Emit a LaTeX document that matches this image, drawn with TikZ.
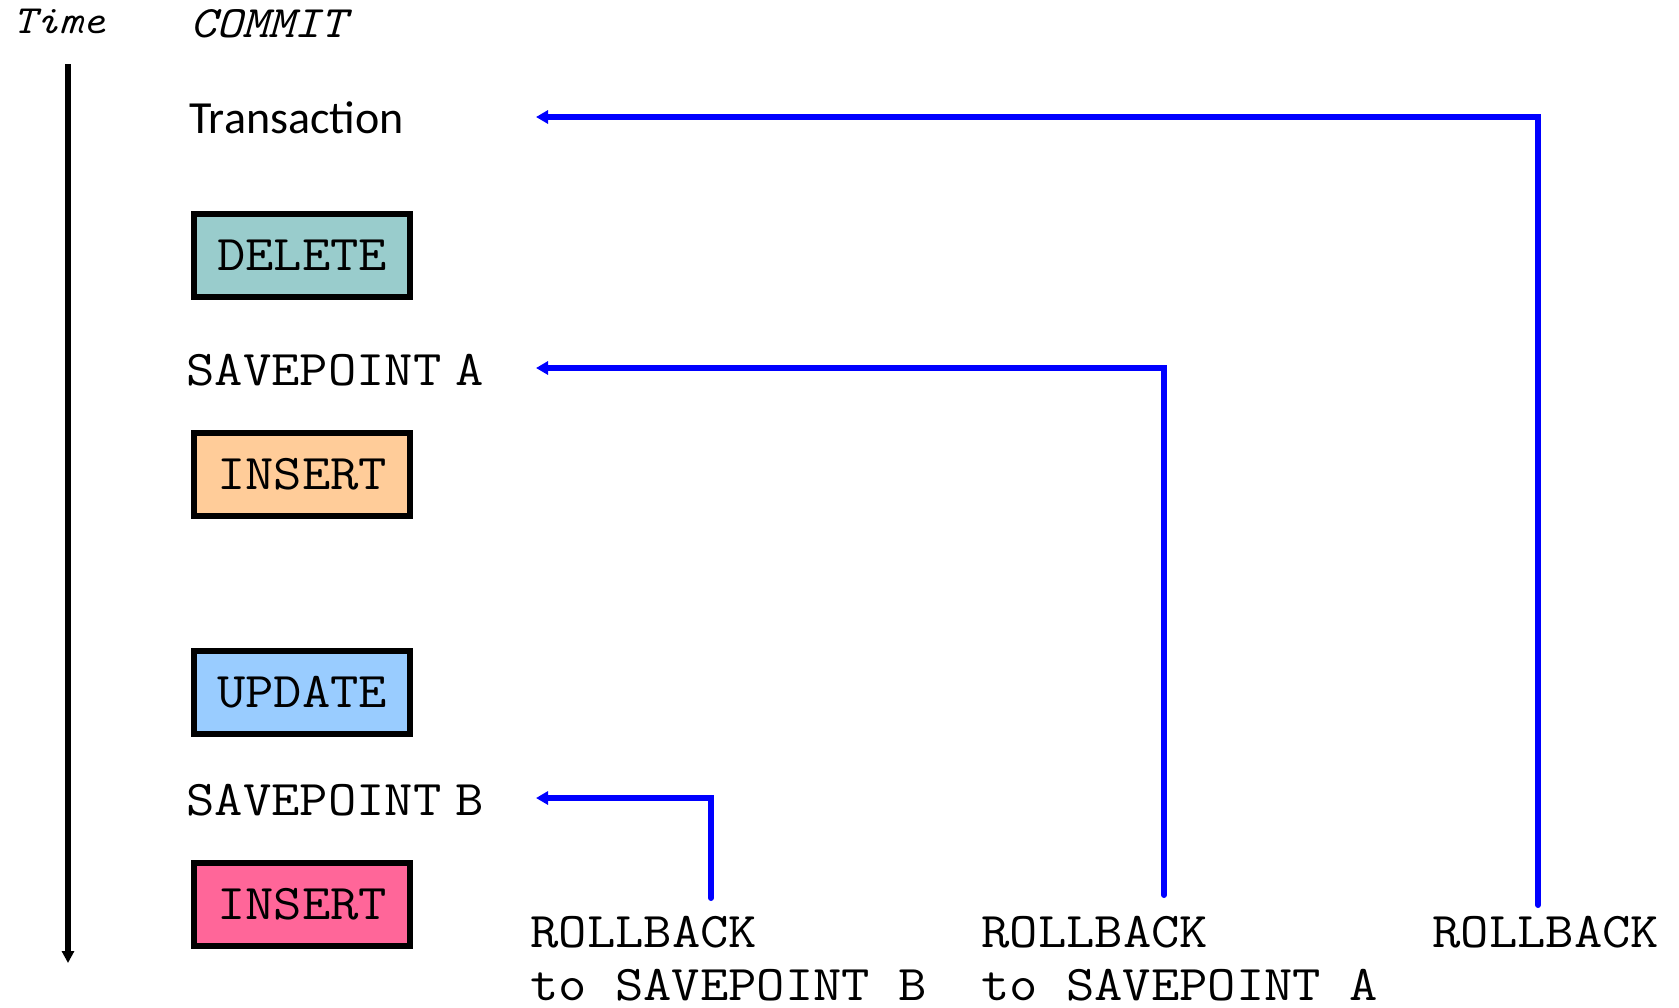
\documentclass[tikz,border=0pt]{standalone}
\usepackage{fontspec}
\usetikzlibrary{arrows.meta}
\newfontfamily\calibf{Carlito}
\newfontfamily\monof[FakeStretch=1.1]{Latin Modern Mono}
\definecolor{cdel}{HTML}{99CCCC}
\definecolor{cins}{HTML}{FFCC99}
\definecolor{cupd}{HTML}{99CCFF}
\definecolor{cinsb}{HTML}{FF6699}
\definecolor{rbblue}{HTML}{0000FF}
\newcommand{\monosz}{\monof\fontsize{25pt}{26.5pt}\selectfont}
\tikzset{
  opbox/.style={draw=black, line width=3pt, minimum width=108pt, minimum height=41.5pt,
    inner sep=0pt, font=\monosz},
  lbl/.style={inner sep=0pt, anchor=base west, font=\monosz},
  rblbl/.style={inner sep=0pt, anchor=base west, align=left, font=\monosz},
  rbline/.style={draw=rbblue, line width=3pt, line cap=round, -{Triangle[length=6pt,width=6.5pt]}}
}
\begin{document}
\begin{tikzpicture}[x=0.5pt,y=-0.5pt]
\useasboundingbox (0,0) rectangle (1679,1007);
% headers
\node[inner sep=0pt, anchor=base west, font=\monof\itshape\fontsize{20pt}{22pt}\selectfont] (time) at (13,33) {Time};
\node[inner sep=0pt, anchor=base west, font=\monof\itshape\fontsize{22.5pt}{24pt}\selectfont] (commit) at (190,37) {COMMIT};
% time axis
\coordinate (ttop) at (68,64);
\coordinate (tbot) at (68,963);
\draw[line width=3pt, -{Triangle[length=6pt,width=6pt]}] (ttop) -- (tbot);
% labels
\node[inner sep=0pt, anchor=base west, font=\calibf\fontsize{23pt}{26pt}\selectfont] (trans) at (189,133) {Transaction};
\node[opbox, fill=cdel] (del) at (302,255.5) {DELETE};
\node[lbl] (spa) at (186,385) {SAVEPOINT\hspace{7pt}A};
\node[opbox, fill=cins] (ins1) at (302,474) {INSERT};
\node[opbox, fill=cupd] (upd) at (302,692) {UPDATE};
\node[lbl] (spb) at (186,815) {SAVEPOINT\hspace{7pt}B};
\node[opbox, fill=cinsb] (ins2) at (302,904.5) {INSERT};
% rollback labels (base = last line)
\node[rblbl] (rbb) at (530,1000) {ROLLBACK\\to SAVEPOINT B};
\node[rblbl] (rba) at (981,1000) {ROLLBACK\\to SAVEPOINT A};
\node[rblbl] (rbt) at (1432,947) {ROLLBACK};
% connector end points
\coordinate (rbbS) at (711,898);
\coordinate (rbaS) at (1164,895);
\coordinate (rbtS) at (1538,905);
\coordinate (tipB) at (536,798);
\coordinate (tipA) at (536,368);
\coordinate (tipT) at (536,117);
\draw[rbline] (rbbS) |- (tipB);
\draw[rbline] (rbaS) |- (tipA);
\draw[rbline] (rbtS) |- (tipT);
\end{tikzpicture}
\end{document}
